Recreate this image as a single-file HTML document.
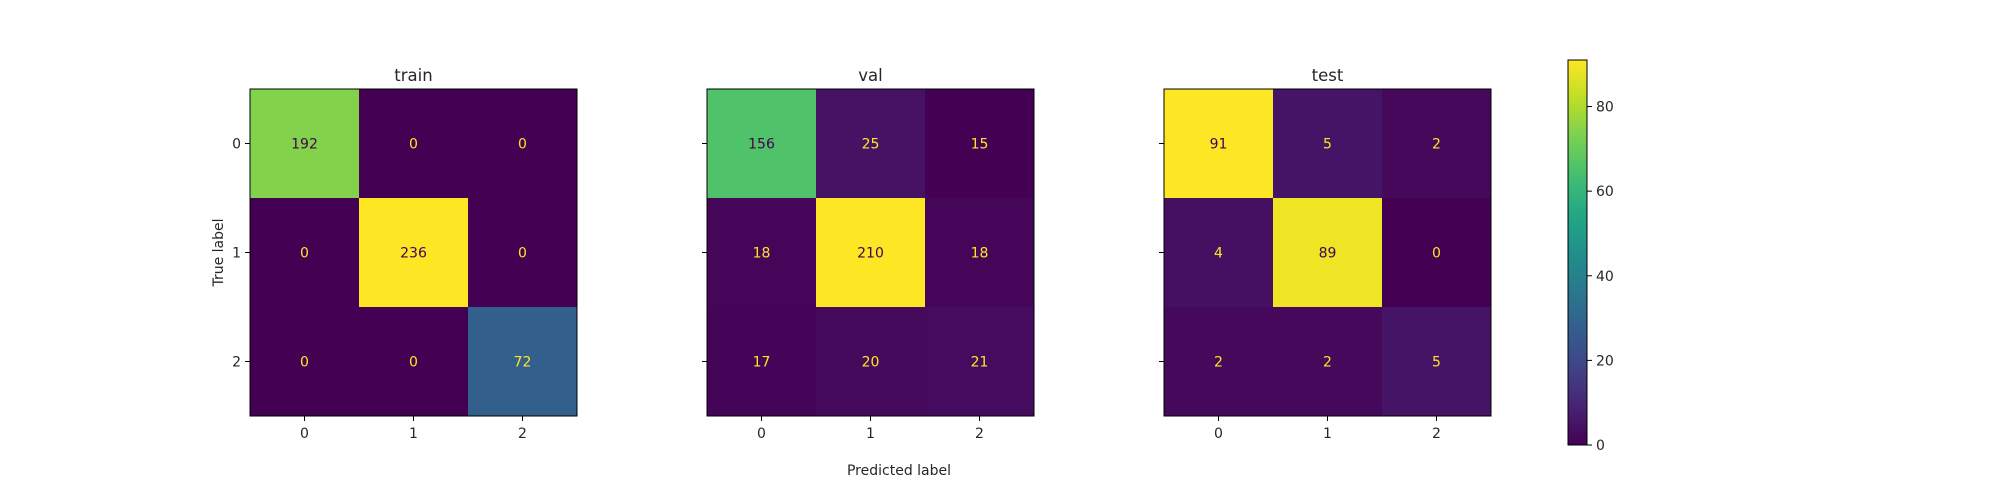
<!DOCTYPE html>
<html><head><meta charset="utf-8"><style>
body{margin:0;background:#fff}svg{display:block}
text{font-family:"DejaVu Sans","Liberation Sans",sans-serif;fill:#262626}
</style></head><body>
<svg id="fig" width="2000" height="500" xmlns="http://www.w3.org/2000/svg"></svg>
<script>
const classLabels = ["0","1","2"];
const panelTitles = ["train","val","test"];
const trainValues = [[192,0,0],[0,236,0],[0,0,72]];
const valValues = [[156,25,15],[18,210,18],[17,20,21]];
const testValues = [[91,5,2],[4,89,0],[2,2,5]];
const colorbarTicks = [0,20,40,60,80];
const colorbarMax = 91;

const V=[[68,1,84],[72,35,116],[64,67,135],[52,94,141],[41,120,142],[32,144,140],[34,167,132],[68,190,112],[121,209,81],[189,222,38],[253,231,37]];
function viridis(t){t=Math.max(0,Math.min(1,t));const s=t*10,i=Math.min(9,Math.floor(s)),f=s-i;
 const c=V[i].map((v,k)=>Math.round(v+(V[i+1][k]-v)*f));return `rgb(${c})`;}
const svgEl=document.getElementById('fig');const NS='http://www.w3.org/2000/svg';
function mk(tag,attrs,parent){const e=document.createElementNS(NS,tag);for(const k in attrs)e.setAttribute(k,attrs[k]);(parent||svgEl).appendChild(e);return e;}
const panels=[trainValues,valValues,testValues];
const lefts=[250,707,1164];const topY=89,size=327,cell=size/3;
panels.forEach((m,p)=>{
 const g=mk('g',{});
 
 
 const flat=m.flat();const mx=Math.max(...flat),mn=Math.min(...flat);
 const x0=lefts[p];
 m.forEach((row,r)=>row.forEach((v,c)=>{
  const t=(v-mn)/(mx-mn||1);
  const rc=mk('rect',{x:x0+c*cell,y:topY+r*cell,width:cell+0.5,height:cell+0.5,fill:viridis(t)},g);
  
  
  const tx=mk('text',{x:x0+(c+0.5)*cell,y:topY+(r+0.5)*cell+5,'text-anchor':'middle','font-size':14},g);
  tx.style.fill= v<(mx+mn)/2 ? viridis(1) : viridis(0);
  tx.textContent=v;
  
  
 }));
 mk('rect',{x:x0,y:topY,width:size,height:size,fill:'none',stroke:'#000','stroke-width':1},g);
 const ti=mk('text',{x:x0+size/2,y:81,'text-anchor':'middle','font-size':16.5},g);ti.textContent=panelTitles[p];
 
 
 classLabels.forEach((l,i)=>{
  const cx=x0+(i+0.5)*cell,cy=topY+(i+0.5)*cell;
  mk('line',{x1:cx,y1:topY+size,x2:cx,y2:topY+size+5,stroke:'#000'},g);
  const xt=mk('text',{x:cx,y:topY+size+22,'text-anchor':'middle','font-size':14},g);xt.textContent=l;
  
  
  mk('line',{x1:x0-5,y1:cy,x2:x0,y2:cy,stroke:'#000'},g);
  if(p===0){const yt=mk('text',{x:x0-9,y:cy+5,'text-anchor':'end','font-size':14},g);yt.textContent=l;
   
   }
 });
});
const yl=mk('text',{x:0,y:0,'text-anchor':'middle','font-size':14,transform:`translate(223,${topY+size/2}) rotate(-90)`});yl.textContent='True label';


const xl=mk('text',{x:899,y:475,'text-anchor':'middle','font-size':14});xl.textContent='Predicted label';


const cb=mk('g',{});


const cbx=1568,cbw=19,cbt=60,cbb=445;
const defs=mk('defs',{},cb);const gr=mk('linearGradient',{id:'vg',x1:0,y1:1,x2:0,y2:0},defs);
for(let i=0;i<=10;i++)mk('stop',{offset:i/10,'stop-color':viridis(i/10)},gr);
mk('rect',{x:cbx,y:cbt,width:cbw,height:cbb-cbt,fill:'url(#vg)',stroke:'#000'},cb);
colorbarTicks.forEach(v=>{const y=cbb-(v/colorbarMax)*(cbb-cbt);
 mk('line',{x1:cbx+cbw,y1:y,x2:cbx+cbw+5,y2:y,stroke:'#000'},cb);
 const t=mk('text',{x:cbx+cbw+9,y:y+5,'font-size':14},cb);t.textContent=v;
 
 });
</script></body></html>
